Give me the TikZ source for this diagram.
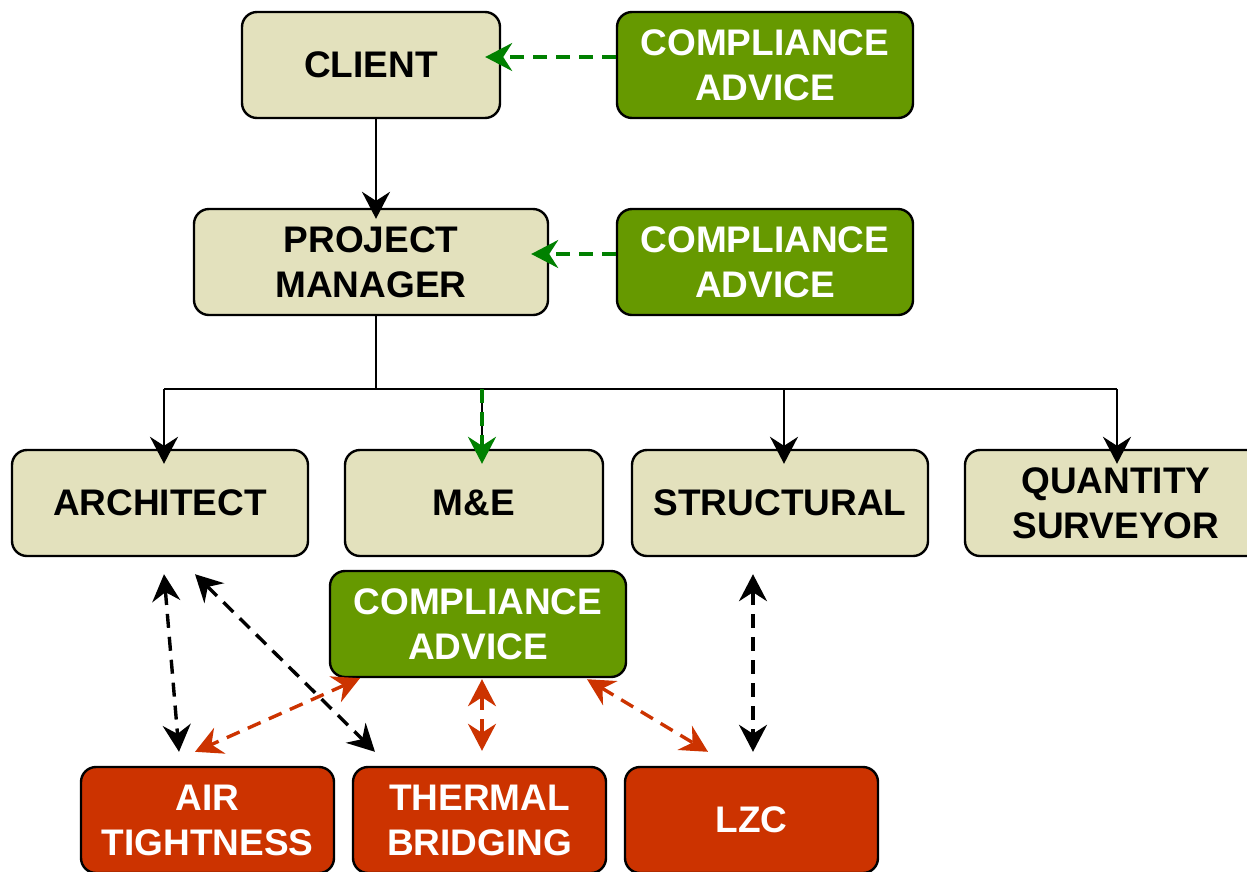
\documentclass[tikz,border=0pt]{standalone}
\usepackage{fontspec}
\setmainfont{Liberation Sans}
\usetikzlibrary{arrows.meta,calc}

\definecolor{beige}{HTML}{E3E1BD}
\definecolor{advgreen}{HTML}{669900}
\definecolor{issred}{HTML}{CC3300}
\definecolor{linkgreen}{HTML}{008000}

\tikzset{
  box/.style={rectangle, rounded corners=15pt, draw=black, line width=2.4pt,
    minimum height=106pt, inner sep=0pt, align=center,
    font=\fontsize{37}{45}\selectfont\bfseries},
  rolebox/.style={box, fill=beige, text=black},
  advbox/.style={box, fill=advgreen, text=white, minimum width=296pt},
  issuebox/.style={box, fill=issred, text=white, minimum width=253pt},
  tree/.style={line width=2.2pt, draw=black},
  treearrow/.style={tree, -{Stealth[length=27pt, width=28pt, inset=9pt]}},
  dashlink/.style={line width=3.4pt, dash pattern=on 14pt off 9pt},
  advarrow/.style={dashlink, draw=linkgreen, -{Stealth[length=27pt, width=28pt, inset=9pt]}},
  blacklink/.style={dashlink, draw=black, {Stealth[length=27pt, width=28pt, inset=9pt]}-{Stealth[length=27pt, width=28pt, inset=9pt]}},
  redlink/.style={dashlink, draw=issred, {Stealth[length=27pt, width=28pt, inset=9pt]}-{Stealth[length=27pt, width=28pt, inset=9pt]}},
}

\begin{document}
\begin{tikzpicture}[x=1pt, y=-1pt]
\clip (0,0) rectangle (1247,871);
\fill[white] (0,0) rectangle (1247,871);

% roles
\node[rolebox, minimum width=258pt] (client) at (371,65) {CLIENT};
\node[rolebox, minimum width=354pt] (pm) at (371,262) {PROJECT\\MANAGER};
\node[rolebox, minimum width=296pt] (arch) at (160,503) {ARCHITECT};
\node[rolebox, minimum width=258pt] (me) at (474,503) {M\&E};
\node[rolebox, minimum width=296pt] (struct) at (780,503) {STRUCTURAL};
\node[rolebox, minimum width=302pt] (qs) at (1116,503) {QUANTITY\\SURVEYOR};

% compliance advice
\node[advbox] (ca1) at (765,65) {COMPLIANCE\\ADVICE};
\node[advbox] (ca2) at (765,262) {COMPLIANCE\\ADVICE};
\node[advbox] (ca3) at (478,624) {COMPLIANCE\\ADVICE};

% compliance issues
\node[issuebox] (air) at (207.5,820) {AIR\\TIGHTNESS};
\node[issuebox] (therm) at (479.5,820) {THERMAL\\BRIDGING};
\node[issuebox] (lzc) at (751.5,820) {LZC};

% advice into client and project manager
\draw[advarrow] ($(ca1.west)+(0,-8)$) -- ($(client.east)+(-16,-8)$);
\draw[advarrow] ($(ca2.west)+(0,-8)$) -- ($(pm.east)+(-18,-8)$);

% reporting line
\draw[treearrow] ($(client.south)+(5,0)$) -- ($(pm.north)+(5,11)$);
\coordinate (busL) at (164,389);
\coordinate (busR) at (1117,389);
\coordinate (busM) at (482,389);
\draw[tree] ($(pm.south)+(5,0)$) -- ++(0,74);
\draw[tree] (busL) -- (busR);
\draw[treearrow] (busL) -- ($(arch.north)+(4,15)$);
\draw[tree] (busM) -- ($(me.north)+(8,5)$);
\draw[advarrow] (busM) -- ($(me.north)+(8,15)$);
\draw[treearrow] (busR -| struct.north) ++(4,0) -- ($(struct.north)+(4,15)$);
\draw[treearrow] (busR) -- ($(qs.north)+(1,15)$);

% design team links to issues
\draw[blacklink] ($(arch.south)+(4,17)$) -- ($(air.north)+(-28.5,-14)$);
\draw[blacklink] ($(arch.south)+(35,17)$) -- ($(therm.north)+(-104.5,-14)$);
\draw[blacklink] ($(struct.south)+(-27,17)$) -- ($(lzc.north)+(1.5,-14)$);

% advice links to issues
\draw[redlink] ($(ca3.south)+(-118,0)$) -- ($(air.north)+(-12.5,-14)$);
\draw[redlink] ($(ca3.south)+(4,1)$) -- ($(therm.north)+(2.5,-15)$);
\draw[redlink] ($(ca3.south)+(109,1)$) -- ($(lzc.north)+(-43.5,-14)$);
\end{tikzpicture}
\end{document}
